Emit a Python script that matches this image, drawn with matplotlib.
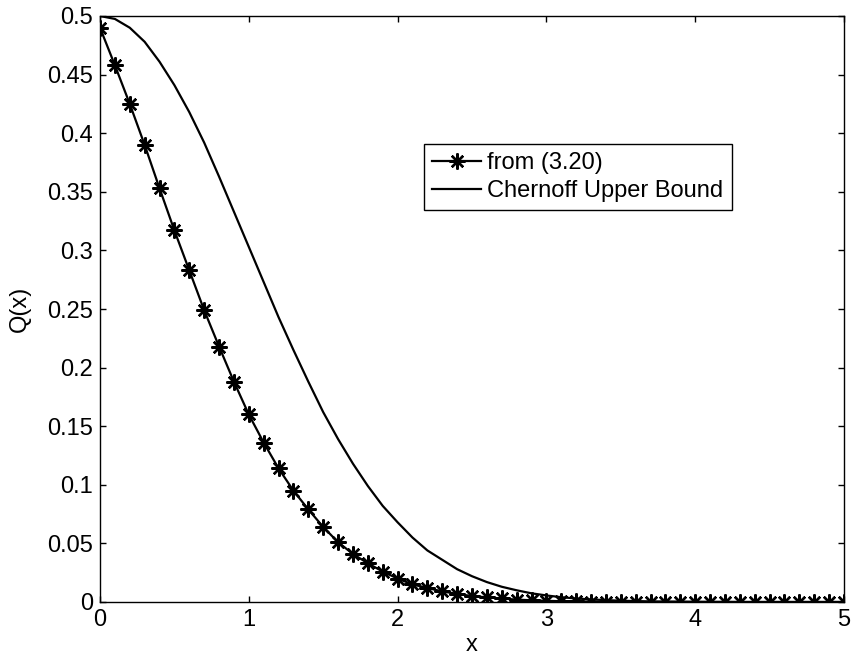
import matplotlib
matplotlib.use("Agg")
import matplotlib.pyplot as plt

# values, x = 0, 0.1, ..., 5
x_vals = [i / 10 for i in range(51)]

q_from_320 = [
    0.490, 0.458, 0.425, 0.390, 0.353, 0.317, 0.283, 0.249, 0.218, 0.188,
    0.160, 0.136, 0.114, 0.095, 0.079, 0.064, 0.051, 0.041, 0.033, 0.026,
    0.020, 0.015, 0.012, 0.009, 0.007, 0.005, 0.004, 0.003, 0.002, 0.0015,
    0.001, 0.0007, 0.0005, 0.0003, 0.0002, 0.0001, 0.0, 0.0, 0.0, 0.0,
    0.0, 0.0, 0.0, 0.0, 0.0, 0.0, 0.0, 0.0, 0.0, 0.0,
    0.0,
]

chernoff = [
    0.500, 0.4975, 0.490, 0.478, 0.461, 0.441, 0.418, 0.392, 0.363, 0.333,
    0.303, 0.273, 0.243, 0.215, 0.188, 0.162, 0.139, 0.118, 0.099, 0.082,
    0.068, 0.055, 0.044, 0.036, 0.028, 0.022, 0.017, 0.013, 0.010, 0.0074,
    0.0056, 0.0041, 0.0030, 0.0022, 0.0016, 0.0011, 0.0008, 0.0005, 0.0004, 0.0003,
    0.0002, 0.0001, 0.0001, 0.0, 0.0, 0.0, 0.0, 0.0, 0.0, 0.0,
    0.0,
]

series_labels = ["from (3.20)", "Chernoff Upper Bound"]
x_ticks = [0, 1, 2, 3, 4, 5]
y_ticks = [0, 0.05, 0.1, 0.15, 0.2, 0.25, 0.3, 0.35, 0.4, 0.45, 0.5]
y_tick_labels = ["0", "0.05", "0.1", "0.15", "0.2", "0.25", "0.3",
                 "0.35", "0.4", "0.45", "0.5"]

plt.rcParams["font.family"] = ["Liberation Sans", "DejaVu Sans"]
plt.rcParams["font.size"] = 17

fig = plt.figure(figsize=(8.55, 6.61), dpi=100)
ax = fig.add_axes([100 / 855, 1 - 602 / 661, 744 / 855, 586 / 661])

ax.plot(x_vals, q_from_320, color="black", lw=1.6,
        marker=(8, 2, 0), markersize=11.5, markeredgewidth=1.7,
        label=series_labels[0])
ax.plot(x_vals, chernoff, color="black", lw=1.6, label=series_labels[1])

ax.set_xlim(0, 5)
ax.set_ylim(0, 0.5)
ax.set_xticks(x_ticks)
ax.set_yticks(y_ticks)
ax.set_yticklabels(y_tick_labels)
ax.tick_params(direction="in", length=4, width=1, top=True, right=True, pad=5)
for sp in ax.spines.values():
    sp.set_linewidth(1)

ax.set_xlabel("x", labelpad=2)
ax.set_ylabel("Q(x)", labelpad=12)

leg = ax.legend(loc="upper left", bbox_to_anchor=(0.435, 0.782),
                fancybox=False, framealpha=1, edgecolor="black",
                borderpad=0.35, labelspacing=0.25, handlelength=2.1,
                handletextpad=0.25, borderaxespad=0)
leg.get_frame().set_linewidth(1)

fig.savefig("out.png", dpi=100)
